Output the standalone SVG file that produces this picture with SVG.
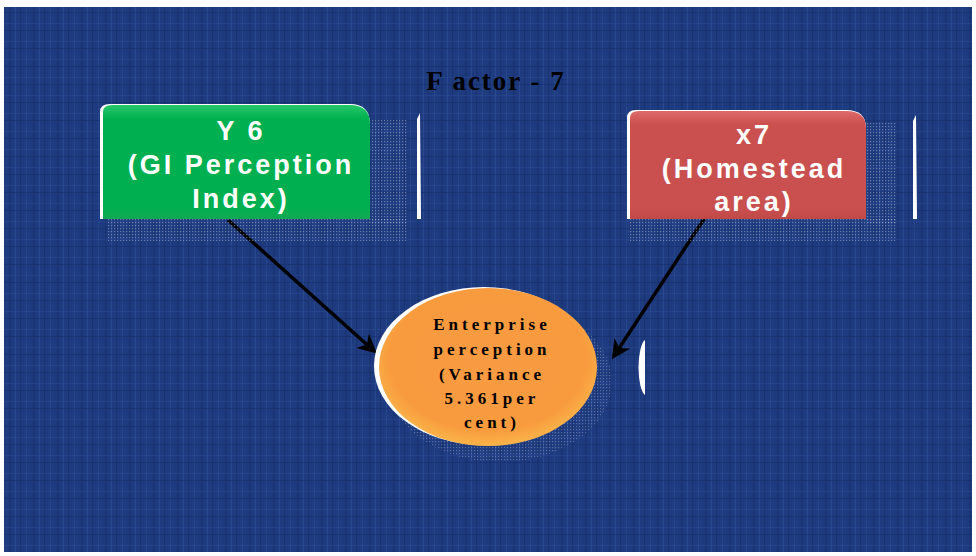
<svg xmlns="http://www.w3.org/2000/svg" width="976" height="556" viewBox="0 0 976 556">
  <defs>
    <style>
      .title { font-family: "Liberation Serif", serif; font-weight: bold; font-size: 27px; fill: #000; letter-spacing: 2px; }
      .boxtxt { font-family: "Liberation Sans", Arial, sans-serif; font-weight: bold; font-size: 27px; fill: #fff; letter-spacing: 3px; text-anchor: middle; }
      .elltxt { font-family: "Liberation Serif", serif; font-weight: bold; font-size: 17px; fill: #000; letter-spacing: 4px; text-anchor: middle; }
      .conn { stroke: #000; stroke-width: 3.5; fill: none; marker-end: url(#arrow); }
      .sliver { fill: #fff; }
    </style>
    <!-- woven blue backdrop -->
    <pattern id="weave" width="24" height="18" patternUnits="userSpaceOnUse">
      <rect width="24" height="18" fill="#1f3b80"/>
      <rect x="2" width="1" height="18" fill="#2a4a92" opacity="0.7"/>
      <rect x="9" width="2" height="18" fill="#17306c" opacity="0.6"/>
      <rect x="15" width="1" height="18" fill="#3a5aa0" opacity="0.45"/>
      <rect x="20" width="1" height="18" fill="#182f6a" opacity="0.7"/>
      <rect y="5" width="24" height="1" fill="#2b4b94" opacity="0.5"/>
      <rect y="12" width="24" height="1" fill="#162d66" opacity="0.6"/>
    </pattern>
    <!-- halftone shadow dots -->
    <pattern id="dots" width="3" height="3" patternUnits="userSpaceOnUse">
      <rect width="1.2" height="1.2" fill="#c8cfe0"/>
    </pattern>
    <linearGradient id="greenFill" x1="0" y1="0" x2="0" y2="1">
      <stop offset="0" stop-color="#27c76a"/>
      <stop offset="0.12" stop-color="#00b050"/>
      <stop offset="0.9" stop-color="#00b050"/>
      <stop offset="1" stop-color="#12a953"/>
    </linearGradient>
    <linearGradient id="redFill" x1="0" y1="0" x2="0" y2="1">
      <stop offset="0" stop-color="#e06b6a"/>
      <stop offset="0.12" stop-color="#c9504f"/>
      <stop offset="0.9" stop-color="#c9504f"/>
      <stop offset="1" stop-color="#c04846"/>
    </linearGradient>
    <radialGradient id="orangeFill" cx="0.5" cy="0.45" r="0.6">
      <stop offset="0" stop-color="#f79a42"/>
      <stop offset="0.75" stop-color="#f89b3e"/>
      <stop offset="1" stop-color="#fbc04e"/>
    </radialGradient>
    <marker id="arrow" viewBox="0 0 10 10" refX="8" refY="5" markerWidth="5.5" markerHeight="5.5" orient="auto" markerUnits="strokeWidth">
      <path d="M0,0 L10,5 L0,10 L3,5 Z" fill="#000"/>
    </marker>
  </defs>

  <!-- page frame and backdrop -->
  <rect width="976" height="556" fill="#fff"/>
  <rect x="4" y="7" width="968" height="545" fill="url(#weave)"/>

  <text class="title" x="496" y="90" text-anchor="middle">F actor - 7</text>

  <!-- white edge slivers -->
  <path class="sliver" d="M417,119 L420,113 L421,219 L417,219 Z"/>
  <path class="sliver" d="M913,121 L916,115 L917,219 L913,219 Z"/>
  <path class="sliver" d="M645,340 A8,28 0 0 0 645,395 Z"/>

  <!-- connectors -->
  <g id="connectors">
    <line class="conn" x1="228" y1="220" x2="374" y2="351"/>
    <line class="conn" x1="706" y1="216" x2="614" y2="356"/>
  </g>

  <!-- Y6 node -->
  <g id="node-y6">
    <rect x="370" y="120" width="38" height="105" fill="url(#dots)" opacity="0.45"/>
    <rect x="106" y="219" width="302" height="22" fill="url(#dots)" opacity="0.45"/>
    <path d="M100,219 L100,112 Q100,104 110,104 L350,104 Q370,104 370,124 L370,219 Z" fill="#fff"/>
    <path d="M103,219 L103,112 Q103,105 112,105 L350,105 Q370,105 370,124 L370,219 Z" fill="url(#greenFill)"/>
    <text class="boxtxt" x="241" y="140">Y 6</text>
    <text class="boxtxt" x="241" y="174">(GI Perception</text>
    <text class="boxtxt" x="241" y="208">Index)</text>
  </g>

  <!-- x7 node -->
  <g id="node-x7">
    <rect x="866" y="122" width="30" height="103" fill="url(#dots)" opacity="0.45"/>
    <rect x="628" y="219" width="268" height="22" fill="url(#dots)" opacity="0.45"/>
    <path d="M627,219 L627,118 Q627,110 636,110 L846,110 Q866,110 866,128 L866,219 Z" fill="#fff"/>
    <path d="M630,219 L630,118 Q630,111 639,111 L846,111 Q866,111 866,128 L866,219 Z" fill="url(#redFill)"/>
    <text class="boxtxt" x="754" y="144">x7</text>
    <text class="boxtxt" x="754" y="178">(Homestead</text>
    <text class="boxtxt" x="754" y="211">area)</text>
  </g>

  <!-- enterprise perception node -->
  <g id="node-enterprise">
    <ellipse cx="500" cy="382" rx="112" ry="80" fill="url(#dots)" opacity="0.35"/>
    <ellipse cx="484" cy="366" rx="110" ry="79" fill="#fff"/>
    <ellipse cx="488" cy="367" rx="109" ry="79" fill="url(#orangeFill)"/>
    <text class="elltxt" x="492" y="330">Enterprise</text>
    <text class="elltxt" x="492" y="355">perception</text>
    <text class="elltxt" x="492" y="380">(Variance</text>
    <text class="elltxt" x="492" y="404">5.361per</text>
    <text class="elltxt" x="492" y="428">cent)</text>
  </g>
</svg>
